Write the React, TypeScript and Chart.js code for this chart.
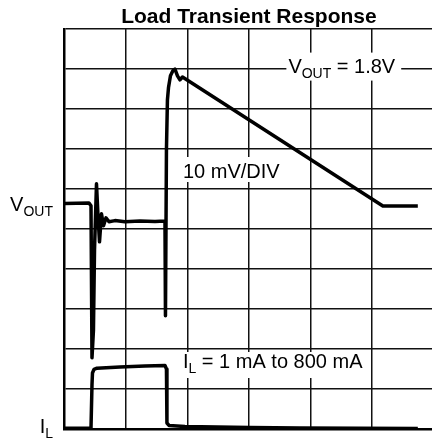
import React, { useEffect, useRef } from "react";
import { Chart, registerables } from "chart.js";

Chart.register(...registerables);

// Oscilloscope trace data in grid divisions (x: time divisions, y: vertical divisions)
const voutX = [0.0, 0.405, 0.438, 0.454, 0.478, 0.495, 0.527, 0.551, 0.576, 0.608, 0.641, 0.681, 0.73, 0.827, 0.989, 1.232, 1.476, 1.638, 1.646, 1.662, 1.678, 1.695, 1.727, 1.768, 1.8, 1.841, 1.881, 1.922, 5.173, 5.74];
const voutY = [5.64, 5.65, 5.58, 1.78, 2.48, 4.48, 6.13, 5.35, 4.68, 5.38, 5.08, 5.28, 5.18, 5.21, 5.18, 5.2, 5.19, 5.2, 2.83, 6.98, 8.23, 8.53, 8.83, 8.96, 9.0, 8.83, 8.73, 8.8, 5.575, 5.575];

const ilX = [0.0, 0.438, 0.454, 0.462, 0.486, 0.535, 0.908, 1.313, 1.638, 1.662, 1.67, 1.703, 1.962, 3.016, 3.827, 5.74];
const ilY = [0.02, 0.02, 1.1, 1.4, 1.49, 1.52, 1.55, 1.575, 1.59, 1.5, 0.15, 0.09, 0.06, 0.04, 0.025, 0.015];

const xGridTicks = [0, 1, 2, 3, 4, 5, 6];
const yGridTicks = [0, 1, 2, 3, 4, 5, 6, 7, 8, 9, 10];

const titleText = "Load Transient Response";
const scaleLabel = "10 mV/DIV";
const voutNote = { main: "V", sub: "OUT", rest: " = 1.8V", x: 3.64, y: 8.91 };
const ilNote = { main: "I", sub: "L", rest: " = 1 mA to 800 mA", x: 1.93, y: 1.525 };
const scaleNote = { x: 1.93, y: 6.275 };
const leftLabels = [
  { main: "V", sub: "OUT", y: 5.45 },
  { main: "I", sub: "L", y: -0.1 },
];

const FONT = '"Liberation Sans", Arial, Helvetica, sans-serif';

function drawSubText(ctx: CanvasRenderingContext2D, x: number, y: number, main: string, sub: string, rest: string, align: "left" | "right") {
  ctx.font = `20px ${FONT}`;
  const wMain = ctx.measureText(main).width;
  const wRest = ctx.measureText(rest).width;
  ctx.font = `14px ${FONT}`;
  const wSub = ctx.measureText(sub).width;
  const total = wMain + wSub + wRest;
  const sx = align === "left" ? x : x - total;
  ctx.textAlign = "left";
  ctx.textBaseline = "alphabetic";
  ctx.fillStyle = "#000";
  ctx.font = `20px ${FONT}`;
  ctx.fillText(main, sx, y);
  ctx.font = `14px ${FONT}`;
  ctx.fillText(sub, sx + wMain, y + 5);
  ctx.font = `20px ${FONT}`;
  ctx.fillText(rest, sx + wMain + wSub, y);
  return total;
}

function measureSub(ctx: CanvasRenderingContext2D, main: string, sub: string, rest: string) {
  ctx.font = `20px ${FONT}`;
  const a = ctx.measureText(main + rest).width;
  ctx.font = `14px ${FONT}`;
  return a + ctx.measureText(sub).width;
}

const annotPlugin = {
  id: "annot",
  beforeDatasetsDraw(chart: any) {
    const ctx: CanvasRenderingContext2D = chart.ctx;
    const xs = chart.scales.x;
    const ys = chart.scales.y;
    ctx.save();
    // white boxes behind annotations (clear grid lines)
    const boxes: any[] = [];
    {
      const px = xs.getPixelForValue(voutNote.x);
      const py = ys.getPixelForValue(voutNote.y);
      const w = measureSub(ctx, voutNote.main, voutNote.sub, voutNote.rest);
      boxes.push([px - 2, py - 20, w + 8, 28]);
    }
    {
      const px = xs.getPixelForValue(ilNote.x);
      const py = ys.getPixelForValue(ilNote.y);
      const w = measureSub(ctx, ilNote.main, ilNote.sub, ilNote.rest);
      boxes.push([px - 3, py - 16, w + 4, 26]);
    }
    {
      const px = xs.getPixelForValue(scaleNote.x);
      const py = ys.getPixelForValue(scaleNote.y);
      ctx.font = `20px ${FONT}`;
      const w = ctx.measureText(scaleLabel).width;
      boxes.push([px - 3, py - 21, w + 6, 25]);
    }
    ctx.fillStyle = "#fff";
    boxes.forEach((b) => ctx.fillRect(b[0], b[1], b[2], b[3]));
    ctx.restore();
  },
  afterDatasetsDraw(chart: any) {
    const ctx: CanvasRenderingContext2D = chart.ctx;
    const xs = chart.scales.x;
    const ys = chart.scales.y;
    const area = chart.chartArea;
    ctx.save();
    ctx.font = `bold 21px ${FONT}`;
    ctx.fillStyle = "#000";
    ctx.textAlign = "center";
    ctx.textBaseline = "alphabetic";
    ctx.fillText(titleText, xs.getPixelForValue(3), area.top - 6);

    drawSubText(ctx, xs.getPixelForValue(voutNote.x), ys.getPixelForValue(voutNote.y), voutNote.main, voutNote.sub, voutNote.rest, "left");
    drawSubText(ctx, xs.getPixelForValue(ilNote.x), ys.getPixelForValue(ilNote.y), ilNote.main, ilNote.sub, ilNote.rest, "left");
    ctx.font = `20px ${FONT}`;
    ctx.fillStyle = "#000";
    ctx.textAlign = "left";
    ctx.fillText(scaleLabel, xs.getPixelForValue(scaleNote.x), ys.getPixelForValue(scaleNote.y));

    leftLabels.forEach((l) => {
      drawSubText(ctx, area.left - 11, ys.getPixelForValue(l.y), l.main, l.sub, "", "right");
    });
    ctx.restore();
  },
};

export default function App() {
  const ref = useRef<HTMLCanvasElement | null>(null);
  useEffect(() => {
    document.body.style.margin = "0";
    document.body.style.overflow = "hidden";
    const canvas = ref.current!;
    const chart = new Chart(canvas, {
      type: "scatter",
      data: {
        datasets: [
          {
            data: voutX.map((x, i) => ({ x, y: voutY[i] })),
            showLine: true,
            borderColor: "#000",
            borderWidth: 3.5,
            pointRadius: 0,
            tension: 0,
            borderJoinStyle: "round",
          } as any,
          {
            data: ilX.map((x, i) => ({ x, y: ilY[i] })),
            showLine: true,
            borderColor: "#000",
            borderWidth: 3.5,
            pointRadius: 0,
            tension: 0,
            borderJoinStyle: "round",
          } as any,
        ],
      },
      options: {
        animation: false,
        responsive: false,
        maintainAspectRatio: false,
        layout: { padding: { left: 64, top: 29, right: 0, bottom: 16 } },
        plugins: { legend: { display: false }, tooltip: { enabled: false }, title: { display: false } },
        scales: {
          x: {
            type: "linear",
            min: 0,
            max: 5.97,
            afterBuildTicks: (s: any) => {
              s.ticks = xGridTicks.map((v) => ({ value: v }));
            },
            ticks: { display: false },
            grid: { color: "#111", lineWidth: 1.5, drawTicks: false },
            border: { display: true, color: "#000", width: 2.5 },
          },
          y: {
            type: "linear",
            min: 0,
            max: 10,
            afterBuildTicks: (s: any) => {
              s.ticks = yGridTicks.map((v) => ({ value: v }));
            },
            ticks: { display: false },
            grid: { color: "#111", lineWidth: 1.5, drawTicks: false },
            border: { display: true, color: "#000", width: 2.5 },
          },
        },
      },
      plugins: [annotPlugin],
    });
    return () => chart.destroy();
  }, []);
  return (
    <div style={{ width: 432, height: 445, overflow: "hidden" }}>
      <canvas ref={ref} width={432} height={445} style={{ display: "block", width: 432, height: 445 }} />
    </div>
  );
}
